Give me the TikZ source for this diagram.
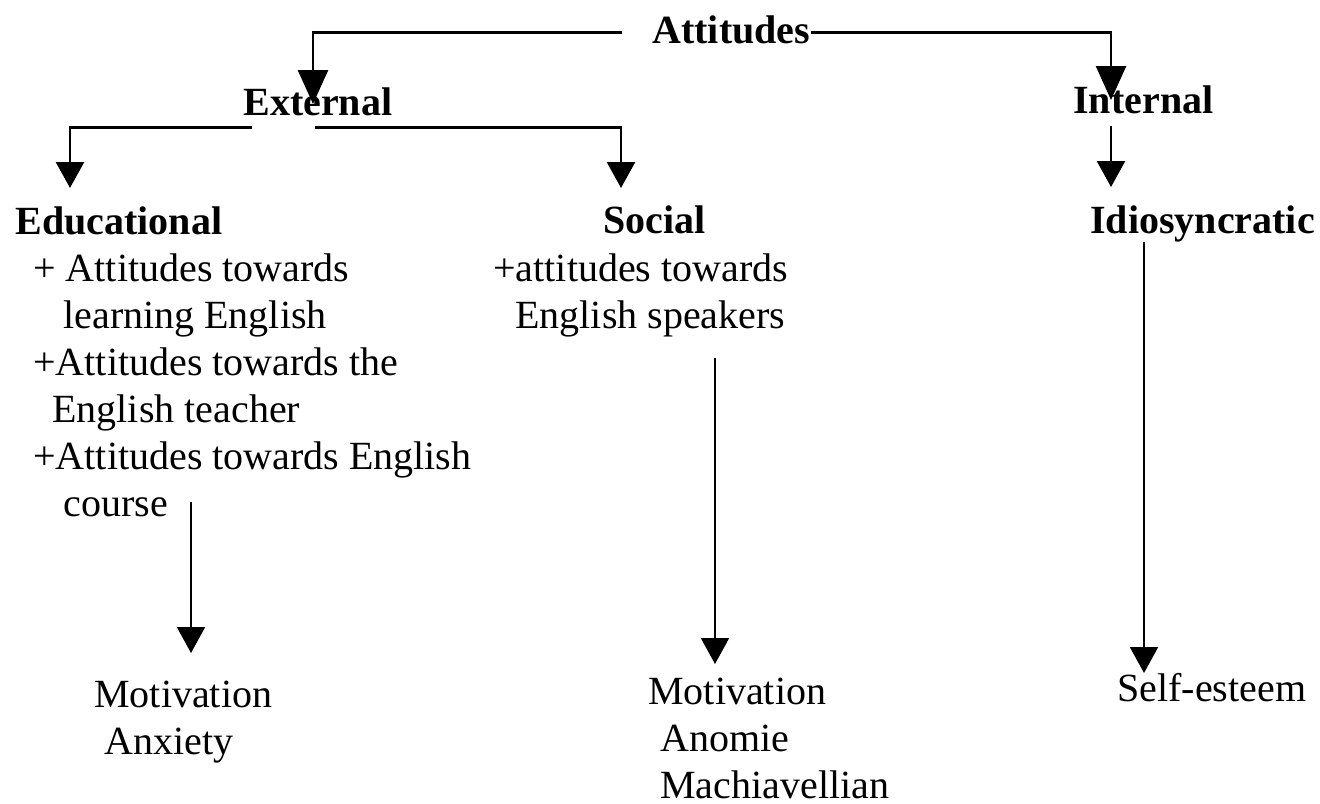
\documentclass[tikz,border=0pt]{standalone}
\usepackage{fontspec}
\setmainfont{Liberation Serif}
\usetikzlibrary{calc}
\usetikzlibrary{arrows.meta}
\newcommand{\headnode}[4]{\node[head] (#1) at ( #2 , #3 ) {#4};}
\newcommand{\listnode}[4]{\node[list] (#1) at ( #2 , #3 ) {#4};}

\begin{document}
\begin{tikzpicture}[x=0.5pt,y=-0.5pt,
        head/.style={anchor=base west,inner sep=0pt,font=\fontsize{20}{23.5}\selectfont\bfseries},
        list/.style={anchor=north west,inner sep=0pt,align=left,font=\fontsize{20}{23.5}\selectfont},
        link/.style={line width=1.3pt},
        thin link/.style={line width=1pt},
        tip/.style={-{Triangle[length=13pt,width=14pt]}},
        bigtip/.style={-{Triangle[length=17pt,width=15pt]}}]
        \useasboundingbox (0,0) rectangle (1320,803);

        % headings
        \headnode{att}{652}{43}{Attitudes}
        \headnode{ext}{243}{115}{External}
        \headnode{int}{1073}{113}{Internal}
        \headnode{edu}{15}{234}{Educational}
        \headnode{soc}{603}{233}{Social}
        \headnode{idio}{1090}{233}{Idiosyncratic}

        % lists
        \listnode{edulist}{33}{253}{+ Attitudes towards\\ \hspace*{15pt}learning English\\+Attitudes towards the\\ \hspace*{9.5pt}English teacher\\+Attitudes towards English\\ \hspace*{15pt}course}
        \listnode{soclist}{493}{253}{+attitudes towards\\ \hspace*{11pt}English speakers}

        % outcomes
        \listnode{edumot}{94}{681}{Motivation\\ \hspace*{5pt}Anxiety}
        \listnode{socmot}{648}{678}{Motivation\\ \hspace*{6pt}Anomie\\ \hspace*{6pt}Machiavellian}
        \listnode{self}{1117}{673}{Self-esteem}

        % arrow ends
        \coordinate (extin) at (313,104);
        \coordinate (intin) at (1111,100);
        \coordinate (eduin) at (70,188);
        \coordinate (socin) at (621,188);
        \coordinate (idioin) at (1111,187);

        % row 1
        \draw[link,bigtip] ([xshift=-15pt,yshift=-1.5pt]att.west) -| (extin);
        \draw[link,bigtip] ([yshift=-1.5pt]att.east) -| (intin);
        % row 2
        \draw[link,tip] ([shift={(4.5pt,-6pt)}]ext.south west) -| (eduin);
        \draw[link,tip] ([shift={(36pt,-6pt)}]ext.south west) -| (socin);
        \draw[link,tip] ([shift={(19pt,-6pt)}]int.south west) -- (idioin);
        % row 3
        \draw[thin link,tip] ([shift={(79pt,7.5pt)}]edulist.south west) -- ([shift={(48.5pt,14pt)}]edumot.north west);
        \draw[thin link,tip] ([shift={(111pt,-10.5pt)}]soclist.south west) -- ([shift={(33.5pt,7pt)}]socmot.north west);
        \draw[thin link,tip] ([xshift=27pt]idio.south west) -- ([xshift=13.5pt]self.north west);
\end{tikzpicture}
\end{document}
